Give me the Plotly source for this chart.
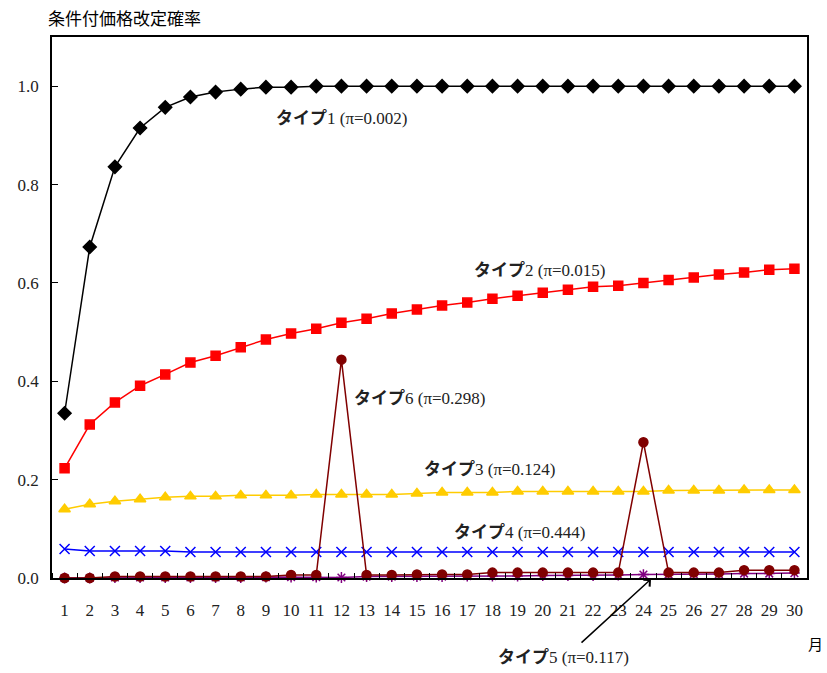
import plotly.graph_objects as go

months = list(range(1, 31))
type1 = [0.335, 0.673, 0.836, 0.915, 0.957, 0.978, 0.988, 0.994, 0.998, 0.998,
         1.0, 1.0, 1.0, 1.0, 1.0, 1.0, 1.0, 1.0, 1.0, 1.0,
         1.0, 1.0, 1.0, 1.0, 1.0, 1.0, 1.0, 1.0, 1.0, 1.0]
type2 = [0.223, 0.312, 0.357, 0.391, 0.414, 0.438, 0.452, 0.469, 0.485, 0.497,
         0.507, 0.519, 0.527, 0.538, 0.546, 0.554, 0.560, 0.568, 0.574, 0.580,
         0.586, 0.592, 0.594, 0.600, 0.606, 0.611, 0.617, 0.621, 0.627, 0.629]
type3 = [0.140, 0.150, 0.156, 0.160, 0.164, 0.166, 0.166, 0.168, 0.168, 0.168,
         0.170, 0.170, 0.170, 0.170, 0.172, 0.174, 0.174, 0.174, 0.176, 0.176,
         0.176, 0.176, 0.176, 0.176, 0.178, 0.178, 0.178, 0.179, 0.179, 0.179]
type4 = [0.059, 0.055, 0.055, 0.055, 0.055, 0.053, 0.053, 0.053, 0.053, 0.053,
         0.053, 0.053, 0.053, 0.053, 0.053, 0.053, 0.053, 0.053, 0.053, 0.053,
         0.053, 0.053, 0.053, 0.053, 0.053, 0.053, 0.053, 0.053, 0.053, 0.053]
type5 = [0.000, 0.000, 0.001, 0.001, 0.001, 0.001, 0.001, 0.001, 0.002, 0.002,
         0.002, 0.001, 0.003, 0.003, 0.003, 0.003, 0.004, 0.004, 0.004, 0.005,
         0.005, 0.005, 0.006, 0.007, 0.007, 0.008, 0.008, 0.009, 0.009, 0.010]
type6 = [0.000, 0.000, 0.003, 0.003, 0.003, 0.003, 0.003, 0.003, 0.003, 0.006,
         0.006, 0.444, 0.006, 0.006, 0.007, 0.007, 0.007, 0.011, 0.011, 0.011,
         0.011, 0.011, 0.011, 0.276, 0.011, 0.011, 0.011, 0.016, 0.016, 0.016]

labels = ["タイプ1", "タイプ2", "タイプ3", "タイプ4", "タイプ5", "タイプ6"]
pis = ["0.002", "0.015", "0.124", "0.444", "0.117", "0.298"]

series = [
    (type1, "#000000", "diamond", 10),
    (type2, "#FF0000", "square", 9),
    (type3, "#FFCC00", "triangle-up", 10),
    (type4, "#0000FF", "x-thin-open", 10),
    (type5, "#800080", "asterisk-open", 9),
    (type6, "#800000", "circle", 9),
]

fig = go.Figure()
for (vals, col, sym, sz), name in zip(series, labels):
    fig.add_trace(go.Scatter(
        x=months, y=vals, mode="lines+markers", name=name,
        line=dict(color=col, width=1.5),
        marker=dict(symbol=sym, size=sz, color=col, line=dict(color=col, width=1.5)),
        cliponaxis=False, showlegend=False,
    ))

SERIF = "'Liberation Serif', 'Times New Roman', Tinos, 'DejaVu Serif', 'Noto Sans CJK JP'"
SANS = "'Noto Sans CJK JP', sans-serif"

def lbl(i):
    return "<b>" + labels[i][:3] + "</b>" + labels[i][3:] + " (π=" + pis[i] + ")"

W, H = 827, 673
L, R, T, B = 52, 20, 37, 95
PW, PH = W - L - R, H - T - B

def px(sx):
    return (sx - L) / PW

def py(sy):
    return (H - B - sy) / PH

ann_pos = [(12.03, 0.935), (19.89, 0.625), (17.9, 0.221), (19.1, 0.093), None, (15.13, 0.365)]
annotations = []
for i, pos in enumerate(ann_pos):
    if pos is None:
        continue
    annotations.append(dict(x=pos[0], y=pos[1], xref="x", yref="y", text=lbl(i), showarrow=False,
                            xanchor="center", yanchor="middle",
                            font=dict(family=SERIF, size=17, color="#222222")))
# type5 label below the axis (paper coords)
annotations.append(dict(x=px(563), y=py(657), xref="paper", yref="paper", text=lbl(4),
                        showarrow=False, xanchor="center", yanchor="middle",
                        font=dict(family=SERIF, size=17, color="#222222")))
annotations.append(dict(x=px(651), y=py(579), xref="paper", yref="paper", text="", showarrow=True,
                        arrowhead=4, arrowsize=1.2, arrowwidth=1.5, arrowcolor="#000000",
                        ax=-71, ay=65))
annotations.append(dict(x=px(815), y=py(643), xref="paper", yref="paper", text="月", showarrow=False,
                        xanchor="center", yanchor="middle",
                        font=dict(family=SANS, size=15, color="#000000")))

fig.update_layout(
    width=W, height=H,
    margin=dict(l=L, r=R, t=T, b=B),
    plot_bgcolor="white", paper_bgcolor="white",
    title=dict(text="条件付価格改定確率", x=48 / W, xanchor="left", y=1 - 19 / H, yanchor="middle",
               font=dict(family=SANS, size=17, color="#000000")),
    annotations=annotations,
)
fig.update_xaxes(
    range=[0.5, 30.5], tickmode="linear", tick0=1, dtick=1, ticks="",
    showgrid=False, zeroline=False, showline=True, linecolor="black", linewidth=1.5, mirror=True,
    tickfont=dict(family=SERIF, size=17, color="#222222"), ticklabelstandoff=16,
    minor=dict(tick0=0.5, dtick=1, ticks="inside", ticklen=5, tickcolor="black", showgrid=False),
)
fig.update_yaxes(
    range=[0, 1.1], tickmode="array", tickvals=[0, 0.2, 0.4, 0.6, 0.8, 1.0],
    ticktext=["0.0", "0.2", "0.4", "0.6", "0.8", "1.0"],
    ticks="inside", ticklen=6, tickcolor="black",
    showgrid=False, zeroline=False, showline=True, linecolor="black", linewidth=1.5, mirror=True,
    tickfont=dict(family=SERIF, size=17, color="#222222"), ticklabelstandoff=8,
)
fig.write_html("out.html", config={"displayModeBar": False},
               post_script="document.body.style.margin='0';")
